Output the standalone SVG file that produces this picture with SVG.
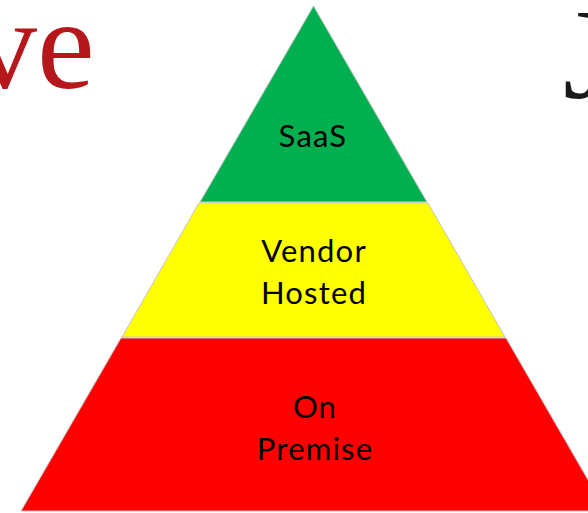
<svg xmlns="http://www.w3.org/2000/svg" width="588" height="513" viewBox="0 0 588 513">
<style>
.seg{stroke:#c4c4c4;stroke-width:1}
.lbl{font-family:Lato,"Liberation Sans",sans-serif;font-size:31px;letter-spacing:1.2px;fill:#000;text-anchor:middle}
.title{font-family:"Liberation Serif",serif;font-size:130px}
</style>
<rect width="588" height="513" fill="#fff"/>
<text class="title" x="-28" y="88" fill="#b5171b">ve</text>
<text class="title" x="563" y="98" fill="#1a1a1a">J</text>
<g id="saas">
<polygon class="seg" points="313.5,6 200,202 427,202" fill="#00b050"/>
<text class="lbl" x="313" y="147">SaaS</text>
</g>
<g id="vendor-hosted">
<polygon class="seg" points="199,203 428,203 505,337 122,337" fill="#ffff00"/>
<text class="lbl" x="314" y="262">Vendor</text>
<text class="lbl" x="314" y="304">Hosted</text>
</g>
<g id="on-premise">
<polygon class="seg" points="121,338 506,338 606,511 21,511" fill="#ff0000"/>
<text class="lbl" x="315" y="418">On</text>
<text class="lbl" x="315" y="460">Premise</text>
</g>
<g id="connectors"/>
</svg>
